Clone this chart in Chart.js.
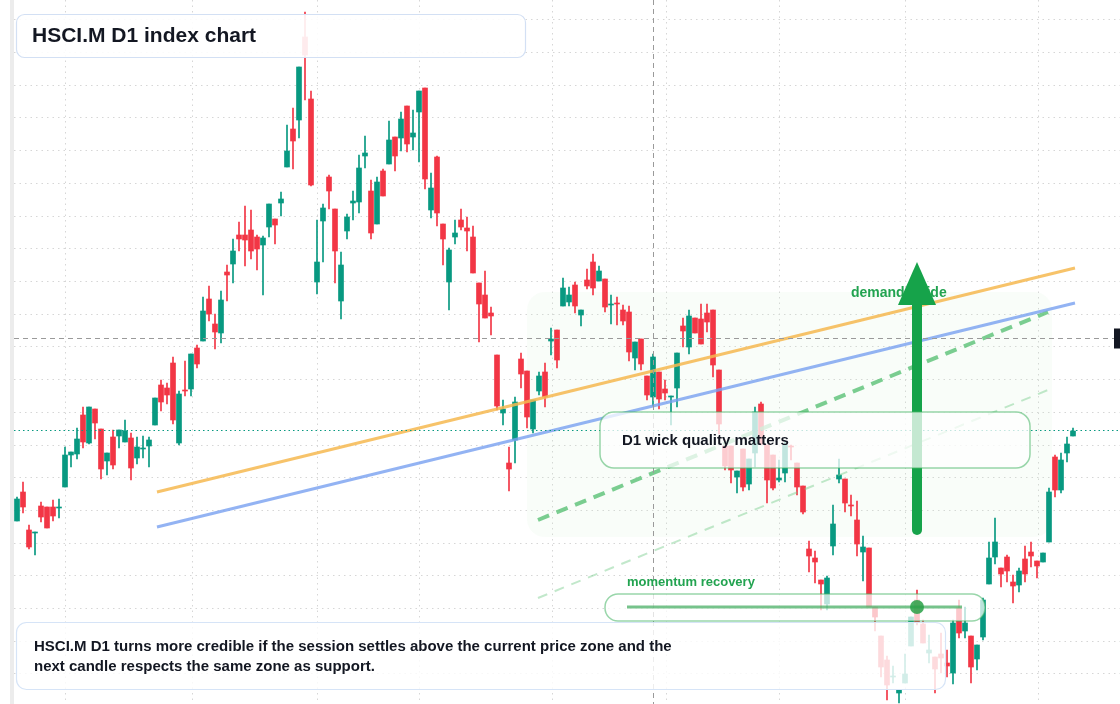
<!DOCTYPE html>
<html><head><meta charset="utf-8">
<script src="https://cdn.jsdelivr.net/npm/chart.js@4.4.1/dist/chart.umd.min.js"></script>
<style>html,body{margin:0;padding:0;background:#fff;}#wrap{width:1120px;height:704px;position:relative;}</style>
</head><body><div id="wrap"><canvas id="c"></canvas></div>
<script>
const openP=[479,508,470,467,494,493,493,492,513,545,546,585,557,591,571,539,563,564,558,562,542,551,554,575,615,612,637,557,610,611,652,659,701,676,667,728,736,765,765,770,763,755,773,781,797,833,871,880,963,901,718,779,823,791,699,769,797,798,844,809,776,829,836,863,862,894,863,888,912,790,843,776,718,763,780,772,763,717,705,687,645,587,537,560,641,629,571,609,628,659,670,694,698,715,685,720,738,719,721,695,697,690,688,642,661,624,603,628,611,603,612,674,653,682,681,687,690,630,554,554,523,551,516,547,596,555,545,520,527,554,537,514,451,442,420,396,454,521,521,495,480,448,452,393,364,340,323,307,317,354,400,376,347,343,346,337,327,392,369,364,341,363,416,443,432,443,418,415,441,448,439,438,458,543,510,547,564];
const highP=[503,518,475,468,498,493,500,501,553,548,572,593,593,591,571,547,570,570,580,567,563,564,563,602,620,617,643,609,639,646,655,703,714,686,709,735,761,778,794,790,765,764,796,781,808,875,892,933,988,909,780,796,825,791,748,786,809,845,864,820,823,831,879,863,888,894,890,909,912,827,844,776,752,780,791,783,774,717,729,693,645,600,553,603,647,629,600,628,637,672,670,722,713,718,690,731,746,734,721,705,703,695,694,658,661,624,646,628,620,604,647,682,690,682,696,696,690,630,560,554,529,551,541,593,598,555,545,540,558,555,537,514,459,449,420,424,495,541,521,505,499,464,452,393,364,344,334,310,346,383,410,380,365,343,367,350,380,400,393,364,355,402,458,482,432,445,425,432,454,458,439,447,512,545,547,563,572];
const lowP=[479,487,451,445,478,472,479,482,513,533,541,552,556,561,521,525,531,552,558,520,536,542,533,575,589,596,576,555,604,604,632,659,679,651,657,699,717,749,734,741,730,705,763,756,784,833,831,862,900,814,706,738,791,717,681,761,780,787,832,761,776,804,836,829,849,848,850,838,811,782,774,735,690,756,770,749,727,658,682,665,590,575,509,537,612,572,567,605,593,645,632,694,694,687,674,711,705,719,688,676,675,675,639,630,630,600,594,591,600,575,593,653,646,667,656,668,623,566,530,517,507,509,510,533,555,497,510,518,518,540,505,486,428,417,390,390,445,517,488,484,444,419,393,369,323,300,317,297,317,354,375,357,337,307,327,323,316,362,362,317,330,360,416,436,413,418,397,408,418,433,422,438,458,503,507,538,564];
const closeP=[501,493,453,468,483,472,484,493,545,548,561,558,593,577,531,547,535,570,569,532,553,552,560,602,598,605,580,606,609,646,636,689,686,668,700,725,749,761,760,749,751,762,796,775,801,849,859,933,945,815,738,792,809,749,735,783,799,832,847,767,818,804,860,844,881,856,867,909,821,812,787,761,750,767,773,769,727,696,682,684,594,591,531,598,626,583,600,624,603,661,640,712,705,694,690,714,712,729,693,696,696,679,648,658,636,605,643,601,607,604,647,669,684,667,656,678,635,576,534,530,529,513,541,588,556,520,512,522,555,553,513,488,444,438,416,422,476,525,497,494,456,453,393,383,333,315,324,310,326,383,378,357,350,331,342,334,377,367,377,333,355,400,442,458,426,429,414,429,426,444,434,447,508,510,540,556,569];
const gridPrices=[]; for(let k=-8;k<=13;k++) gridPrices.push(719-32.7*k);
const gridIdx=[8,29.17,50,67,89.17,108.17,127,148,170.17];
const lastPrice=570, crossPrice=662, crossIdx=106;
const orangeLine=[{x:23.33,y:508},{x:176.33,y:732}];
const blueLine=[{x:23.33,y:473},{x:176.33,y:697}];
const greenDash=[{x:86.83,y:480},{x:171.83,y:688}];
const greenDashLight=[{x:86.83,y:402},{x:171.83,y:610}];
const arrow={x:150,y0:470,y1:695,tip:738};
const zone={x0:85,x1:172.5,y0:708,y1:463};

const UP='#089981', DN='#f23645';
const n=openP.length;
const bodies=[],wicks=[],cols=[];
for(let i=0;i<n;i++){
  let o=openP[i],c=closeP[i];
  if(Math.abs(o-c)<1){c=o+(c>=o?1:-1);}
  bodies.push({x:i,y:[o,c]});
  wicks.push({x:i,y:[lowP[i],highP[i]]});
  cols.push(closeP[i]>=openP[i]?UP:DN);
}
function rr(ctx,x,y,w,h,r){ctx.beginPath();ctx.moveTo(x+r,y);ctx.arcTo(x+w,y,x+w,y+h,r);ctx.arcTo(x+w,y+h,x,y+h,r);ctx.arcTo(x,y+h,x,y,r);ctx.arcTo(x,y,x+w,y,r);ctx.closePath();}
const FONT='"Liberation Sans", Arial, sans-serif';
const bg={id:'bg',beforeDatasetsDraw(ch){
  const {ctx,scales:{x,y}}=ch; ctx.save();
  ctx.fillStyle='#ececec'; ctx.fillRect(10,0,4,704);
  ctx.strokeStyle='#d6d6d6'; ctx.lineWidth=1; ctx.setLineDash([1.5,4]);
  gridPrices.forEach(p=>{const py=Math.round(y.getPixelForValue(p))+0.5;ctx.beginPath();ctx.moveTo(14,py);ctx.lineTo(1120,py);ctx.stroke();});
  gridIdx.forEach(v=>{const px=Math.round(x.getPixelForValue(v))+0.5;ctx.beginPath();ctx.moveTo(px,0);ctx.lineTo(px,704);ctx.stroke();});
  ctx.setLineDash([]);
  const zx0=x.getPixelForValue(zone.x0),zx1=x.getPixelForValue(zone.x1),zy0=y.getPixelForValue(zone.y0),zy1=y.getPixelForValue(zone.y1);
  ctx.fillStyle='rgba(205,240,212,0.13)'; rr(ctx,zx0,zy0,zx1-zx0,zy1-zy0,18); ctx.fill();
  ctx.restore();
}};
const over={id:'over',afterDatasetsDraw(ch){
  const {ctx,scales:{x,y}}=ch; ctx.save();
  ctx.strokeStyle='#9a9a9a'; ctx.lineWidth=1; ctx.setLineDash([5,4]);
  const cy=Math.round(y.getPixelForValue(crossPrice))+0.5, cx=Math.round(x.getPixelForValue(crossIdx))+0.5;
  ctx.beginPath();ctx.moveTo(14,cy);ctx.lineTo(1120,cy);ctx.stroke();
  ctx.beginPath();ctx.moveTo(cx,0);ctx.lineTo(cx,704);ctx.stroke();
  ctx.strokeStyle=UP; ctx.setLineDash([1.5,3]);
  const ly=Math.round(y.getPixelForValue(lastPrice))+0.5;
  ctx.beginPath();ctx.moveTo(14,ly);ctx.lineTo(1120,ly);ctx.stroke();
  ctx.setLineDash([]);
  ctx.fillStyle='#131722'; ctx.fillRect(1114,cy-10,6,20);
  ctx.font='bold 14px '+FONT; ctx.fillStyle='#22a350'; ctx.textBaseline='middle';
  ctx.fillText('demand stride',851,293);
  const ax=x.getPixelForValue(arrow.x);
  ctx.strokeStyle='#16a34a'; ctx.lineWidth=10; ctx.lineCap='round';
  ctx.beginPath();ctx.moveTo(ax,y.getPixelForValue(arrow.y0));ctx.lineTo(ax,y.getPixelForValue(arrow.y1));ctx.stroke();
  ctx.fillStyle='#16a34a'; ctx.beginPath();
  ctx.moveTo(ax-19,y.getPixelForValue(arrow.y1));ctx.lineTo(ax+19,y.getPixelForValue(arrow.y1));ctx.lineTo(ax,y.getPixelForValue(arrow.tip));ctx.closePath();ctx.fill();
  ctx.lineCap='butt';
  ctx.fillStyle='rgba(255,255,255,0.9)'; ctx.strokeStyle='#d3e0f4'; ctx.lineWidth=1.2;
  rr(ctx,16.5,14.5,509,43,8); ctx.fill(); ctx.stroke();
  ctx.fillStyle='#131722'; ctx.font='bold 21px '+FONT; ctx.fillText('HSCI.M D1 index chart',32,36);
  ctx.fillStyle='rgba(255,255,255,0.75)'; ctx.strokeStyle='rgba(70,180,100,0.55)'; ctx.lineWidth=1.5;
  rr(ctx,600,412,430,56,14); ctx.fill(); ctx.stroke();
  ctx.fillStyle='#131722'; ctx.font='bold 15px '+FONT; ctx.fillText('D1 wick quality matters',622,441);
  ctx.fillStyle='#22a350'; ctx.font='bold 13px '+FONT; ctx.fillText('momentum recovery',627,582);
  ctx.fillStyle='rgba(255,255,255,0.72)'; ctx.strokeStyle='rgba(70,180,100,0.55)';
  rr(ctx,605,594,380,27,13); ctx.fill(); ctx.stroke();
  ctx.strokeStyle='rgba(60,170,90,0.7)'; ctx.lineWidth=3;
  ctx.beginPath();ctx.moveTo(627,607);ctx.lineTo(962,607);ctx.stroke();
  ctx.fillStyle='rgba(40,160,70,0.85)'; ctx.beginPath();ctx.arc(917,607,7,0,Math.PI*2);ctx.fill();
  ctx.fillStyle='rgba(255,255,255,0.82)'; ctx.strokeStyle='#d6e4f7'; ctx.lineWidth=1.2;
  rr(ctx,16.5,622.5,929,67,10); ctx.fill(); ctx.stroke();
  ctx.fillStyle='#131722'; ctx.font='bold 15px '+FONT;
  ctx.fillText('HSCI.M D1 turns more credible if the session settles above the current price zone and the',34,647);
  ctx.fillText('next candle respects the same zone as support.',34,667);
  ctx.restore();
}};
new Chart(document.getElementById('c'),{
  type:'bar',
  data:{datasets:[
    {type:'line',data:orangeLine,borderColor:'rgba(246,184,80,0.85)',borderWidth:3,pointRadius:0,order:0},
    {type:'line',data:blueLine,borderColor:'rgba(120,160,240,0.8)',borderWidth:3,pointRadius:0,order:0},
    {type:'line',data:greenDash,borderColor:'rgba(80,190,110,0.75)',borderWidth:4,borderDash:[12,8],pointRadius:0,order:0},
    {type:'line',data:greenDashLight,borderColor:'rgba(120,205,140,0.45)',borderWidth:2,borderDash:[10,8],pointRadius:0,order:0},
    {data:wicks,backgroundColor:cols,barThickness:1,grouped:false,order:2,borderWidth:0},
    {data:bodies,backgroundColor:cols,barThickness:5,grouped:false,order:1,borderWidth:0,minBarLength:1}
  ]},
  options:{responsive:true,maintainAspectRatio:false,animation:false,
    layout:{padding:0},
    plugins:{legend:{display:false},tooltip:{enabled:false}},
    scales:{
      x:{type:'linear',display:false,min:-17/6,max:(1120-17)/6,offset:false},
      y:{type:'linear',display:false,min:296,max:1000}
    }},
  plugins:[bg,over]
});
</script></body></html>
